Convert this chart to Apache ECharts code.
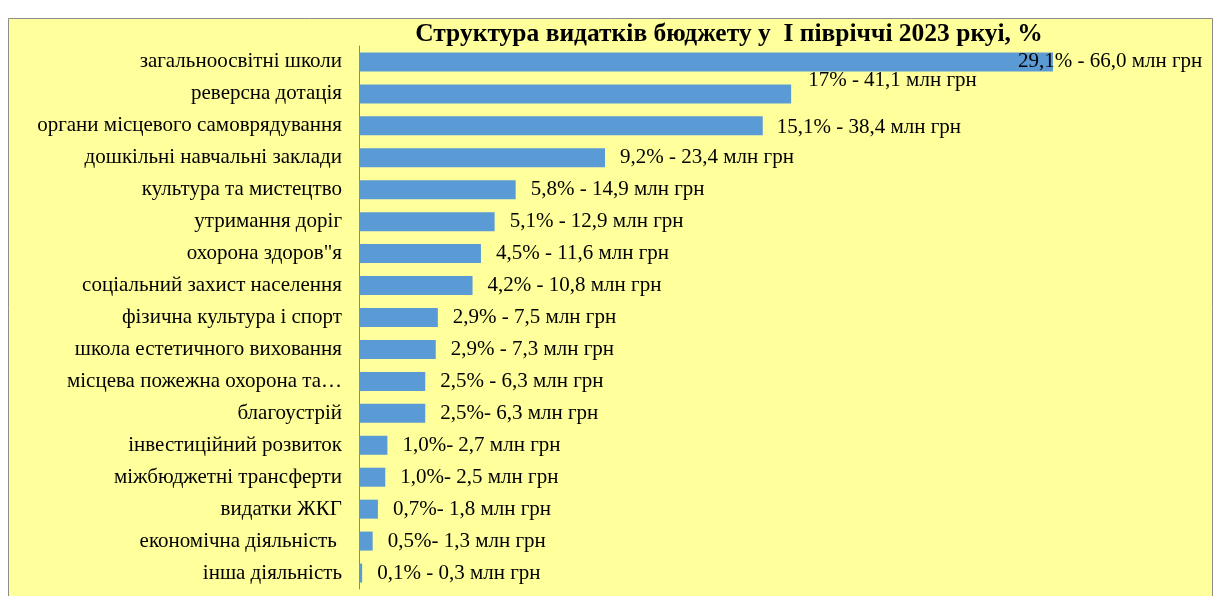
<!DOCTYPE html>
<html>
<head>
<meta charset="utf-8">
<script src="https://cdn.jsdelivr.net/npm/echarts@6/dist/echarts.min.js"></script>
<style>
html,body{margin:0;padding:0;background:#fff;}
#c{width:1215px;height:596px;}
</style>
</head>
<body>
<div id="c"></div>
<script>
var title = 'Структура видатків бюджету у  І півріччі 2023 ркуі, %';
var categories = [
  'загальноосвітні школи',
  'реверсна дотація',
  'органи місцевого самоврядування',
  'дошкільні навчальні заклади',
  'культура та мистецтво',
  'утримання доріг',
  'охорона здоров"я',
  'соціальний захист населення',
  'фізична культура і спорт',
  'школа естетичного виховання',
  'місцева пожежна охорона та…',
  'благоустрій',
  'інвестиційний розвиток',
  'міжбюджетні трансферти',
  'видатки ЖКГ',
  'економічна діяльність ',
  'інша діяльність'
];
var valuesMln = [66.0, 41.1, 38.4, 23.4, 14.9, 12.9, 11.6, 10.8, 7.5, 7.3, 6.3, 6.3, 2.7, 2.5, 1.8, 1.3, 0.3];
var labels = [
  '29,1% - 66,0 млн грн',
  '17% - 41,1 млн грн',
  '15,1% - 38,4 млн грн',
  '9,2% - 23,4 млн грн',
  '5,8% - 14,9 млн грн',
  '5,1% - 12,9 млн грн',
  '4,5% - 11,6 млн грн',
  '4,2% - 10,8 млн грн',
  '2,9% - 7,5 млн грн',
  '2,9% - 7,3 млн грн',
  '2,5% - 6,3 млн грн',
  '2,5%- 6,3 млн грн',
  '1,0%- 2,7 млн грн',
  '1,0%- 2,5 млн грн',
  '0,7%- 1,8 млн грн',
  '0,5%- 1,3 млн грн',
  '0,1% - 0,3 млн грн'
];
var labelOffsets = {0: [-50, 0], 1: [2, -13], 2: [-1, 2]};

var serif = '"Liberation Serif", "Times New Roman", serif';
var data = valuesMln.map(function (v, i) {
  var d = {value: v};
  if (labelOffsets[i]) d.label = {offset: labelOffsets[i]};
  return d;
});

var chart = echarts.init(document.getElementById('c'), null, {renderer: 'canvas'});
chart.setOption({
  animation: false,
  backgroundColor: '#ffffff',
  graphic: [
    {type: 'rect', z: -10, silent: true,
     shape: {x: 8.5, y: 18.5, width: 1204, height: 600},
     style: {fill: '#FFFF9C', stroke: '#8c8c8c', lineWidth: 1}},
    {type: 'text', z: 10, x: 729, y: 34,
     style: {text: title, font: 'bold 25.5px ' + serif, fill: '#000',
             textAlign: 'center', textVerticalAlign: 'middle'}}
  ],
  grid: {left: 359, top: 46, bottom: 7, width: 736, containLabel: false},
  xAxis: {type: 'value', min: 0, max: 70, show: false},
  yAxis: {
    type: 'category', inverse: true, data: categories,
    axisLine: {show: true, lineStyle: {color: '#868686', width: 1}},
    axisTick: {show: false},
    axisLabel: {margin: 17, color: '#000', fontSize: 21, fontFamily: serif}
  },
  series: [{
    type: 'bar',
    data: data,
    barWidth: 19,
    itemStyle: {color: '#5B9BD5'},
    label: {
      show: true, position: 'right', distance: 15,
      color: '#000', fontSize: 21, fontFamily: serif,
      formatter: function (p) { return labels[p.dataIndex]; }
    }
  }]
});
</script>
</body>
</html>
